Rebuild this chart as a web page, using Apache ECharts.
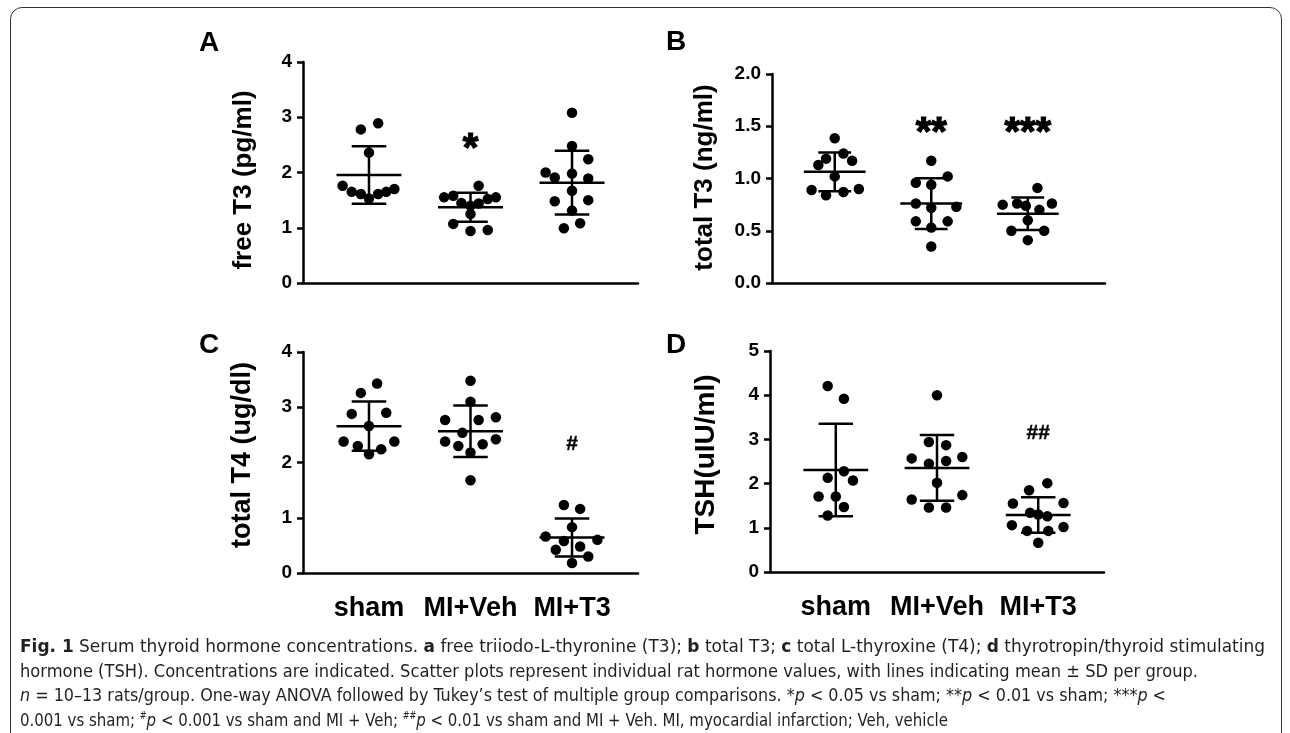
<!DOCTYPE html>
<html>
<head>
<meta charset="utf-8">
<script src="https://cdn.jsdelivr.net/npm/echarts@6/dist/echarts.min.js"></script>
<style>
  html, body { margin: 0; padding: 0; background: #fff; }
  #wrap { position: relative; width: 1290px; height: 733px; overflow: hidden; }
  #chart { position: absolute; left: 0; top: 0; width: 1290px; height: 733px; }
  #frame {
    position: absolute; left: 10px; top: 7px; width: 1272px; height: 760px;
    border: 1.5px solid #333; border-radius: 12px; box-sizing: border-box;
  }
  #caption {
    position: absolute; left: 20px; top: 634px;
    font-family: "Liberation Sans Narrow", "DejaVu Sans Condensed", "Liberation Sans", sans-serif;
    font-size: 18.5px; line-height: 24.7px; color: #231f20;
  }
  #caption .ln { width: max-content; white-space: nowrap; transform-origin: 0 0; }
  #caption sup { font-size: 10px; line-height: 0; }
</style>
</head>
<body>
<div id="wrap">
  <div id="chart"></div>
  <div id="frame"></div>
  <div id="caption">
    <div class="ln" data-w="1245"><b>Fig. 1</b> Serum thyroid hormone concentrations. <b>a</b> free triiodo-L-thyronine (T3); <b>b</b> total T3; <b>c</b> total L-thyroxine (T4); <b>d</b> thyrotropin/thyroid stimulating</div>
    <div class="ln" data-w="1178">hormone (TSH). Concentrations are indicated. Scatter plots represent individual rat hormone values, with lines indicating mean ± SD per group.</div>
    <div class="ln" data-w="1146"><i>n</i> = 10–13 rats/group. One-way ANOVA followed by Tukey’s test of multiple group comparisons. *<i>p</i> &lt; 0.05 vs sham; **<i>p</i> &lt; 0.01 vs sham; ***<i>p</i> &lt;</div>
    <div class="ln" data-w="928">0.001 vs sham; <sup>#</sup><i>p</i> &lt; 0.001 vs sham and MI + Veh; <sup>##</sup><i>p</i> &lt; 0.01 vs sham and MI + Veh. MI, myocardial infarction; Veh, vehicle</div>
  </div>
</div>
<script>
// groups on the x axis
const groups = ["sham", "MI+Veh", "MI+T3"];

// values per group (sham, MI+Veh, MI+T3)
const freeT3 = [
  [2.78, 2.89, 2.36, 1.76, 1.65, 1.61, 1.53, 1.61, 1.65, 1.70],
  [1.76, 1.55, 1.58, 1.45, 1.40, 1.44, 1.52, 1.55, 1.25, 1.07, 0.94, 0.96],
  [3.08, 2.48, 2.24, 2.00, 1.91, 1.98, 1.89, 1.67, 1.48, 1.50, 1.31, 0.99, 1.08]
];
const totalT3 = [
  [1.385, 1.13, 1.19, 1.24, 1.17, 1.02, 0.89, 0.84, 0.87, 0.90],
  [1.17, 0.96, 0.94, 1.02, 0.76, 0.72, 0.73, 0.59, 0.53, 0.59, 0.35],
  [0.91, 0.75, 0.76, 0.74, 0.70, 0.76, 0.60, 0.50, 0.50, 0.41]
];
const totalT4 = [
  [3.43, 3.26, 2.88, 2.90, 2.66, 2.38, 2.30, 2.15, 2.24, 2.38],
  [3.48, 3.10, 2.77, 2.77, 2.82, 2.54, 2.38, 2.30, 2.33, 2.42, 2.18, 1.68],
  [1.23, 1.16, 0.83, 0.66, 0.58, 0.60, 0.48, 0.42, 0.30, 0.18]
];
const tsh = [
  [4.21, 3.92, 2.28, 2.13, 2.07, 1.71, 1.71, 1.47, 1.28],
  [4.00, 2.94, 2.87, 2.57, 2.45, 2.51, 2.60, 2.02, 1.64, 1.74, 1.46, 1.46],
  [2.01, 1.85, 1.55, 1.56, 1.34, 1.30, 1.26, 1.06, 0.93, 0.93, 1.02, 0.66]
];

// horizontal scatter of each dot around its group (in group units)
const freeT3Jitter = [
  [-0.08, 0.09, 0, -0.26, -0.17, -0.08, 0, 0.09, 0.17, 0.25],
  [0.08, -0.26, -0.17, -0.09, 0, 0.08, 0.17, 0.25, 0, -0.17, 0, 0.17],
  [0, 0, 0.16, -0.26, -0.17, 0, 0.16, 0, -0.17, 0.16, 0, -0.08, 0.08]
];
const totalT3Jitter = [
  [0, -0.17, -0.09, 0.09, 0.18, 0, -0.24, -0.09, 0.09, 0.25],
  [0, -0.16, 0, 0.17, -0.16, 0, 0.26, -0.16, 0, 0.17, 0],
  [0.1, -0.26, -0.11, -0.02, 0.12, 0.25, 0, -0.17, 0.17, 0]
];
const totalT4Jitter = [
  [0.08, -0.08, -0.17, 0.17, 0, -0.25, -0.11, 0, 0.12, 0.25],
  [0, 0, -0.25, 0.08, 0.25, -0.08, -0.25, -0.12, 0.12, 0.25, 0, 0],
  [-0.08, 0.08, 0, -0.26, -0.08, 0.25, 0.08, -0.16, 0.16, 0]
];
const tshJitter = [
  [-0.08, 0.08, 0.08, -0.08, 0.17, -0.17, 0, 0.08, -0.08],
  [0, -0.08, 0.09, -0.25, -0.08, 0.09, 0.25, 0, -0.25, 0.25, -0.08, 0.09],
  [0.09, -0.09, -0.25, 0.25, -0.08, 0, 0.09, -0.26, -0.11, 0.1, 0.25, 0]
];

// significance marks: [group, y, text]
const freeT3Marks = [[2, 2.55, "*"]];
const totalT3Marks = [[2, 1.50, "**"], [3, 1.50, "***"]];
const totalT4Marks = [[3, 2.34, "#"]];
const tshMarks = [[3, 3.14, "##"]];

// y axis ticks
const freeT3Ticks = [0, 1, 2, 3, 4];
const totalT3Ticks = [0, 0.5, 1.0, 1.5, 2.0];
const totalT4Ticks = [0, 1, 2, 3, 4];
const tshTicks = [0, 1, 2, 3, 4, 5];

const FONT = "Liberation Sans, Arial, sans-serif";

const mean = (a) => a.reduce((s, v) => s + v, 0) / a.length;
const sd = (a) => {
  const m = mean(a);
  return Math.sqrt(a.reduce((s, v) => s + (v - m) * (v - m), 0) / (a.length - 1));
};

const panels = [
  { letter: "A", name: "free T3 (pg/ml)", values: freeT3, jitter: freeT3Jitter, marks: freeT3Marks, ticks: freeT3Ticks,
    grid: { left: 303, top: 62, width: 335, height: 221 }, xMax: 3.65,
    nameGap: 46, nameSize: 26, namePad: [0, 15, 0, 0], xLabels: false, digits: 0 },
  { letter: "B", name: "total T3 (ng/ml)", values: totalT3, jitter: totalT3Jitter, marks: totalT3Marks, ticks: totalT3Ticks,
    grid: { left: 772, top: 74, width: 333, height: 209 }, xMax: 3.80,
    nameGap: 54, nameSize: 26, namePad: [0, 0, 0, 2], xLabels: false, digits: 1 },
  { letter: "C", name: "total T4 (ug/dl)", values: totalT4, jitter: totalT4Jitter, marks: totalT4Marks, ticks: totalT4Ticks,
    grid: { left: 303, top: 352, width: 335, height: 221 }, xMax: 3.65,
    nameGap: 47, nameSize: 27, namePad: [0, 0, 0, 15], xLabels: true, digits: 0 },
  { letter: "D", name: "TSH(uIU/ml)", values: tsh, jitter: tshJitter, marks: tshMarks, ticks: tshTicks,
    grid: { left: 770, top: 351, width: 334, height: 221 }, xMax: 3.65,
    nameGap: 50, nameSize: 28, namePad: [0, 0, 0, 14], xLabels: true, digits: 0 }
];

const letterPos = { A: [199, 29], B: [666, 28], C: [199, 331], D: [666, 331] };

const renderErrorBar = (params, api) => {
  const c = api.value(0), m = api.value(1), s = api.value(2);
  const half = api.size([0.32, 0])[0];
  const cap = api.size([0.17, 0])[0];
  const mid = api.coord([c, m]);
  const hi = api.coord([c, m + s]);
  const lo = api.coord([c, m - s]);
  const st = { stroke: "#000", lineWidth: 2.5 };
  return {
    type: "group",
    children: [
      { type: "line", shape: { x1: mid[0] - half, y1: mid[1], x2: mid[0] + half, y2: mid[1] }, style: st },
      { type: "line", shape: { x1: hi[0], y1: hi[1], x2: lo[0], y2: lo[1] }, style: st },
      { type: "line", shape: { x1: hi[0] - cap, y1: hi[1], x2: hi[0] + cap, y2: hi[1] }, style: st },
      { type: "line", shape: { x1: lo[0] - cap, y1: lo[1], x2: lo[0] + cap, y2: lo[1] }, style: st }
    ]
  };
};

const chart = echarts.init(document.getElementById("chart"), null, { renderer: "canvas" });

const option = {
  animation: false,
  backgroundColor: "transparent",
  grid: panels.map((p) => Object.assign({ containLabel: false }, p.grid)),
  xAxis: panels.map((p, i) => ({
    type: "value",
    gridIndex: i,
    min: 0.35,
    max: p.xMax,
    splitLine: { show: false },
    axisLine: { show: true, lineStyle: { color: "#000", width: 2.5 } },
    axisTick: { show: false },
    axisLabel: {
      show: p.xLabels,
      customValues: [1, 2, 3],
      formatter: (v) => groups[Math.round(v) - 1] || "",
      color: "#000",
      fontFamily: FONT,
      fontWeight: "bold",
      fontSize: 27,
      margin: 22
    }
  })),
  yAxis: panels.map((p, i) => ({
    type: "value",
    gridIndex: i,
    min: p.ticks[0],
    max: p.ticks[p.ticks.length - 1],
    interval: p.ticks[1] - p.ticks[0],
    splitLine: { show: false },
    axisLine: { show: true, lineStyle: { color: "#000", width: 2.5 } },
    axisTick: { show: true, length: 6, lineStyle: { color: "#000", width: 2.5 } },
    axisLabel: {
      color: "#000",
      fontFamily: FONT,
      fontWeight: "bold",
      fontSize: 19,
      margin: 11,
      formatter: (v) => v.toFixed(p.digits)
    },
    name: p.name,
    nameLocation: "middle",
    nameRotate: 90,
    nameGap: p.nameGap,
    nameTextStyle: { color: "#000", fontFamily: FONT, fontWeight: "bold", fontSize: p.nameSize, padding: p.namePad }
  })),
  series: [],
  graphic: panels.map((p) => ({
    type: "text",
    left: letterPos[p.letter][0],
    top: letterPos[p.letter][1],
    style: { text: p.letter, fill: "#000", font: "bold 28px " + FONT }
  }))
};

panels.forEach((p, i) => {
  const pts = [];
  p.values.forEach((vals, g) => {
    vals.forEach((v, k) => pts.push([g + 1 + p.jitter[g][k], v]));
  });
  const star = p.marks[0][2].charAt(0) === "*";
  option.series.push({
    type: "scatter",
    xAxisIndex: i,
    yAxisIndex: i,
    symbol: "circle",
    symbolSize: 10.5,
    itemStyle: { color: "#000", opacity: 1 },
    silent: true,
    data: pts
  });
  option.series.push({
    type: "custom",
    xAxisIndex: i,
    yAxisIndex: i,
    silent: true,
    renderItem: renderErrorBar,
    data: p.values.map((vals, g) => [g + 1, mean(vals), sd(vals)]),
    z: 3
  });
  option.series.push({
    type: "scatter",
    xAxisIndex: i,
    yAxisIndex: i,
    symbolSize: 1,
    itemStyle: { color: "rgba(0,0,0,0)", opacity: 1 },
    silent: true,
    data: p.marks.map((m) => ({ value: [m[0], m[1]], name: m[2] })),
    label: {
      show: true,
      position: "inside",
      formatter: "{b}",
      color: "#000",
      opacity: 1,
      fontFamily: FONT,
      fontWeight: "bold",
      fontSize: star ? 40 : 21,
      textBorderColor: "#000",
      textBorderWidth: star ? 1.2 : 0.4,
      offset: star ? [0, 8] : [0, 0]
    }
  });
});

chart.setOption(option);

// fit each caption line to the width it has in the printed figure
document.querySelectorAll("#caption .ln").forEach((el) => {
  const w = el.getBoundingClientRect().width;
  el.style.transform = "scaleX(" + (Number(el.dataset.w) / w) + ")";
});
</script>
</body>
</html>
